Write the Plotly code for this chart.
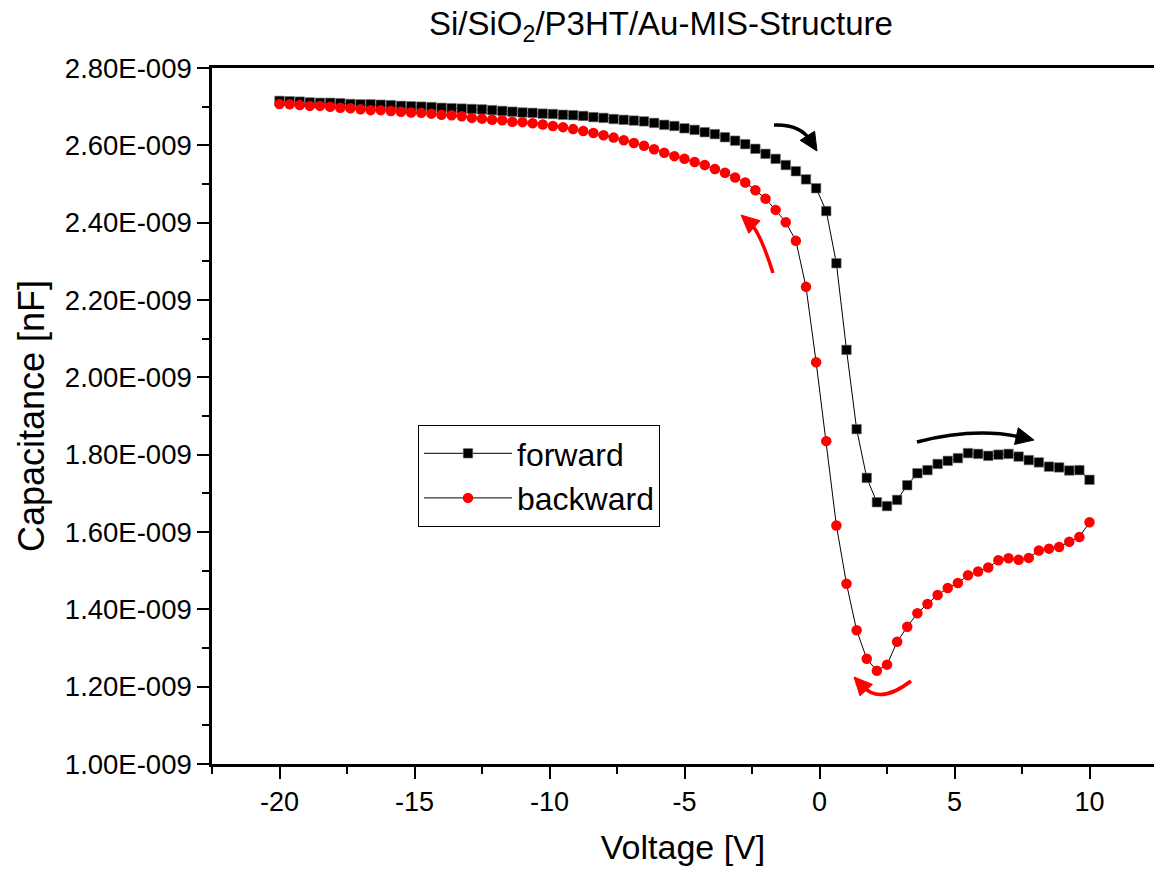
import plotly.graph_objects as go
import numpy as np

voltage = [-20.0, -19.625, -19.25, -18.875, -18.5, -18.125, -17.75, -17.375, -17.0,
           -16.625, -16.25, -15.875, -15.5, -15.125, -14.75, -14.375, -14.0,
           -13.625, -13.25, -12.875, -12.5, -12.125, -11.75, -11.375, -11.0,
           -10.625, -10.25, -9.875, -9.5, -9.125, -8.75, -8.375, -8.0,
           -7.625, -7.25, -6.875, -6.5, -6.125, -5.75, -5.375, -5.0,
           -4.625, -4.25, -3.875, -3.5, -3.125, -2.75, -2.375, -2.0,
           -1.625, -1.25, -0.875, -0.5, -0.125, 0.25, 0.625, 1.0,
           1.375, 1.75, 2.125, 2.5, 2.875, 3.25, 3.625, 4.0,
           4.375, 4.75, 5.125, 5.5, 5.875, 6.25, 6.625, 7.0,
           7.375, 7.75, 8.125, 8.5, 8.875, 9.25, 9.625, 10.0]

# capacitance in units of 1e-9
forward = [2.715, 2.714, 2.713, 2.711, 2.710, 2.710, 2.709, 2.707, 2.706, 2.706,
           2.705, 2.704, 2.702, 2.701, 2.700, 2.699, 2.697, 2.696, 2.695, 2.694,
           2.693, 2.691, 2.689, 2.687, 2.685, 2.684, 2.682, 2.681, 2.679, 2.678,
           2.676, 2.673, 2.671, 2.668, 2.666, 2.664, 2.662, 2.658, 2.653, 2.650,
           2.644, 2.640, 2.634, 2.629, 2.621, 2.612, 2.603, 2.591, 2.578, 2.565,
           2.549, 2.533, 2.512, 2.489, 2.430, 2.295, 2.071, 1.866, 1.740, 1.677,
           1.667, 1.683, 1.721, 1.752, 1.760, 1.776, 1.784, 1.791, 1.804, 1.802,
           1.797, 1.800, 1.802, 1.795, 1.786, 1.780, 1.769, 1.767, 1.759, 1.760,
           1.735]

backward = [2.707, 2.706, 2.704, 2.702, 2.702, 2.700, 2.697, 2.696, 2.693, 2.691,
            2.691, 2.689, 2.687, 2.685, 2.684, 2.682, 2.679, 2.678, 2.675, 2.671,
            2.669, 2.666, 2.665, 2.661, 2.660, 2.657, 2.654, 2.650, 2.647, 2.642,
            2.637, 2.632, 2.626, 2.620, 2.613, 2.606, 2.599, 2.590, 2.581, 2.572,
            2.565, 2.557, 2.549, 2.539, 2.529, 2.517, 2.504, 2.484, 2.462, 2.433,
            2.401, 2.353, 2.234, 2.039, 1.835, 1.617, 1.466, 1.346, 1.272, 1.241,
            1.257, 1.316, 1.355, 1.390, 1.414, 1.437, 1.455, 1.468, 1.488, 1.498,
            1.508, 1.527, 1.532, 1.528, 1.533, 1.552, 1.557, 1.561, 1.575, 1.587,
            1.625]

y_tickvals = [1.0, 1.2, 1.4, 1.6, 1.8, 2.0, 2.2, 2.4, 2.6, 2.8]
y_ticktext = ["1.00E-009", "1.20E-009", "1.40E-009", "1.60E-009", "1.80E-009",
              "2.00E-009", "2.20E-009", "2.40E-009", "2.60E-009", "2.80E-009"]
x_tickvals = [-20, -15, -10, -5, 0, 5, 10]
x_ticktext = ["-20", "-15", "-10", "-5", "0", "5", "10"]

FONT = "Liberation Sans, Arial, sans-serif"
W, H = 1154, 873
ML, MR, MT, MB = 212, 0, 68, 109
PX_PER_V = 27.0
X0 = -22.5
X1 = X0 + (W - ML - MR) / PX_PER_V
Y0, Y1 = 1.0, 2.8

fig = go.Figure()
fig.add_trace(go.Scatter(
    x=voltage, y=forward, name="forward", mode="lines+markers",
    line=dict(color="black", width=1),
    marker=dict(symbol="square", size=9.5, color="black",
                line=dict(color="#777777", width=0.6)),
))
fig.add_trace(go.Scatter(
    x=voltage, y=backward, name="backward", mode="lines+markers",
    line=dict(color="black", width=1),
    marker=dict(symbol="circle", size=10.5, color="#ff0000",
                line=dict(width=0)),
))

# ---- decorative curved arrows (pixel helpers) ----
plot_h = H - MT - MB
def px2x(px):
    return X0 + (px - ML) / PX_PER_V
def py2y(py):
    return Y1 - (py - MT) / plot_h * (Y1 - Y0)

shapes = []
def curved_arrow(tail, ctrl, tip, color, width=3.5, head_len=18, head_w=8.5):
    tx, ty = tip
    cx, cy = ctrl
    d = np.array([tx - cx, ty - cy], dtype=float)
    d /= np.linalg.norm(d)
    n = np.array([-d[1], d[0]])
    base = np.array(tip) - head_len * d
    end = np.array(tip) - head_len * 0.7 * d
    path = "M {},{} Q {},{} {},{}".format(
        px2x(tail[0]), py2y(tail[1]), px2x(cx), py2y(cy), px2x(end[0]), py2y(end[1]))
    shapes.append(dict(type="path", path=path, xref="x", yref="y",
                       line=dict(color=color, width=width)))
    p1 = base + head_w * n
    p2 = base - head_w * n
    tri = "M {},{} L {},{} L {},{} Z".format(
        px2x(tx), py2y(ty), px2x(p1[0]), py2y(p1[1]), px2x(p2[0]), py2y(p2[1]))
    shapes.append(dict(type="path", path=tri, xref="x", yref="y",
                       fillcolor=color, line=dict(color=color, width=1)))

curved_arrow((774, 125), (800, 124), (817, 151), "black")
curved_arrow((773, 273), (760, 232), (741, 215), "#ff0000")
curved_arrow((917, 442), (975, 427), (1034, 440), "black")
curved_arrow((911, 681), (880, 705), (854, 677), "#ff0000")

fig.update_layout(
    width=W, height=H,
    margin=dict(l=ML, r=MR, t=MT, b=MB, pad=0),
    paper_bgcolor="white", plot_bgcolor="white",
    font=dict(family=FONT, color="black"),
    showlegend=True,
    legend=dict(x=(418 - ML) / (W - ML), y=1 - (425 - MT) / plot_h,
                xanchor="left", yanchor="top",
                bordercolor="black", borderwidth=1, bgcolor="white",
                font=dict(size=32, family=FONT), itemwidth=88,
                tracegroupgap=0),
    shapes=shapes,
    annotations=[dict(text="Si/SiO<sub>2</sub>/P3HT/Au-MIS-Structure",
                      xref="paper", yref="paper",
                      x=(661 - ML) / (W - ML), y=1 + (MT - 26) / plot_h,
                      xanchor="center", yanchor="middle", showarrow=False,
                      font=dict(size=33, family=FONT))],
    xaxis=dict(range=[X0, X1], tickvals=x_tickvals, ticktext=x_ticktext,
               ticks="outside", ticklen=12, tickwidth=2, tickcolor="black",
               showline=True, linewidth=2.5, linecolor="black", mirror=True,
               showgrid=False, zeroline=False,
               tickfont=dict(size=27, family=FONT),
               title=dict(text="Voltage [V]", font=dict(size=34, family=FONT),
                          standoff=20),
               minor=dict(tickvals=[-22.5, -17.5, -12.5, -7.5, -2.5, 2.5, 7.5, 12.5],
                          ticks="outside", ticklen=7, tickwidth=2, tickcolor="black")),
    yaxis=dict(range=[Y0, Y1], tickvals=y_tickvals, ticktext=y_ticktext,
               ticks="outside", ticklen=12, tickwidth=2, tickcolor="black",
               showline=True, linewidth=2.5, linecolor="black", mirror=False,
               showgrid=False, zeroline=False,
               tickfont=dict(size=27.5, family=FONT),
               title=dict(text="Capacitance [nF]", font=dict(size=36, family=FONT),
                          standoff=10),
               minor=dict(tickvals=[1.1, 1.3, 1.5, 1.7, 1.9, 2.1, 2.3, 2.5, 2.7],
                          ticks="outside", ticklen=7, tickwidth=2, tickcolor="black")),
)

fig.write_html("out.html")
